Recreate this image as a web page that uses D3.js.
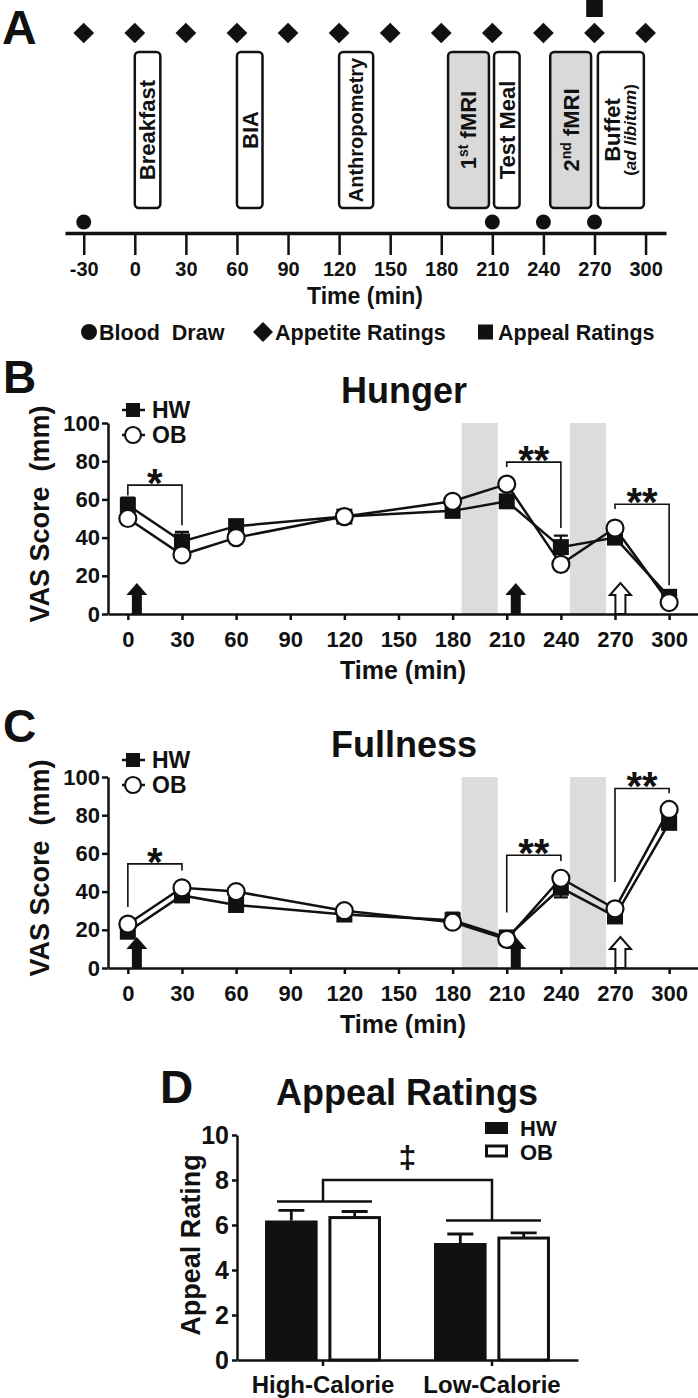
<!DOCTYPE html>
<html><head><meta charset="utf-8">
<script src="https://cdn.jsdelivr.net/npm/d3@7"></script>
<style>
body{margin:0;background:#fff}
text{font-family:"Liberation Sans",Arial,Helvetica,sans-serif;font-weight:bold;fill:#111}
.pre{white-space:pre}
</style>
</head><body>
<svg id="c" width="698" height="1398" xmlns="http://www.w3.org/2000/svg"></svg>
<script>
// ---------- Panel A data ----------
const timelineTicks = [-30,0,30,60,90,120,150,180,210,240,270,300];
const appetiteTimes = [-30,0,30,60,90,120,150,180,210,240,270,300];
const appealTimes = [270];
const bloodTimes = [-30,210,240,270];
const boxLabels = ["Breakfast","BIA","Anthropometry","1st fMRI","Test Meal","2nd fMRI","Buffet"];
const boxSubLabels = ["","","","","","","ad libitum"];
const boxStart = [0,60,120,184,211,244,272];
const boxEnd = [15,75,140,208,226,268,299];
const boxShaded = [false,false,false,true,false,true,false];
const legendA = ["Blood  Draw","Appetite Ratings","Appeal Ratings"];

// ---------- Panels B / C data ----------
const times = [0,30,60,120,180,210,240,270,300];
const axisTicks = [0,30,60,90,120,150,180,210,240,270,300];
const vasTicks = [0,20,40,60,80,100];
const hungerHW = [57,38,46,51,54,59,35,40,9];
const hungerHWerr = [4,5,2,2,3,3,6,3,2];
const hungerOB = [50,31,40,51,59,68,26,45,6];
const hungerOBerr = [3,2,2,2,2,2,2,2,1];
const fullHW = [19,38,33,28,25,16,42,27,76];
const fullHWerr = [3,3,3,2,4,3,5,3,3];
const fullOB = [23,42,40,30,24,15,47,31,83];
const fullOBerr = [2,2,2,2,2,2,2,2,2];
const shadeStart = [185,245];
const shadeEnd = [205,265];
const arrowTimes = [5,215,273];
const arrowFilled = [true,true,false];
// brackets: [t1, t2, top, leftEnd, rightEnd, label]
const hungerBrackets = [[0,30,67.5,62,46.5,"*"],[210,240,79.5,77,45,"**"],[270,300,57.5,55,15,"**"]];
const fullBrackets = [[0,30,54.5,32,51,"*"],[210,240,59,29,56,"**"],[270,300,94,45,91.5,"**"]];

// ---------- Panel D data ----------
const groups = ["High-Calorie","Low-Calorie"];
const appealHW = [6.2,5.2];
const appealHWerr = [0.45,0.4];
const appealOB = [6.33,5.42];
const appealOBerr = [0.27,0.23];
const appealTicks = [0,2,4,6,8,10];
const groupLineVals = [7.05,6.2];
const groupBracketTop = 8.0;

const INK = "#111";
const svg = d3.select("#c");

// ================= PANEL A =================
(function(){
  const xA = d3.scaleLinear().domain([-41,312]).range([65,666]);
  const g = svg.append("g");
  g.append("text").attr("x",2).attr("y",44).attr("font-size",48).text("A");

  g.selectAll("path.dia").data(appetiteTimes).join("path").attr("class","dia")
    .attr("d", d3.symbol(d3.symbolSquare, 215)())
    .attr("transform", d=>`translate(${xA(d)},33) rotate(45)`).attr("fill",INK);
  g.selectAll("rect.apq").data(appealTimes).join("rect").attr("class","apq")
    .attr("x",d=>xA(d)-8.3).attr("y",0).attr("width",16.6).attr("height",17).attr("fill",INK);

  const boxes = boxLabels.map((l,i)=>({l, sub:boxSubLabels[i], s:boxStart[i], e:boxEnd[i], shade:boxShaded[i]}));
  g.selectAll("rect.box").data(boxes).join("rect").attr("class","box")
    .attr("x",d=>xA(d.s)).attr("width",d=>xA(d.e)-xA(d.s))
    .attr("y",52).attr("height",156).attr("rx",4)
    .attr("fill",d=>d.shade?"#d9d9d9":"#fff").attr("stroke",INK).attr("stroke-width",2.5);

  boxes.forEach(d=>{
    const cx = (xA(d.s)+xA(d.e))/2;
    const fs = d.l.length>10 ? 20 : 22;
    const tg = g.append("g").attr("transform",`translate(${cx},130) rotate(-90)`);
    const m = d.l.match(/^(\d)(st|nd) (.*)$/);
    if (m){
      const t = tg.append("text").attr("text-anchor","middle").attr("y",0.36*fs).attr("font-size",fs);
      t.append("tspan").text(m[1]);
      t.append("tspan").attr("font-size",14).attr("dy",-8).text(m[2]);
      t.append("tspan").attr("dy",8).text(" "+m[3]);
    } else if (d.sub){
      tg.append("text").attr("text-anchor","middle").attr("y",-1).attr("font-size",fs).text(d.l);
      const t2 = tg.append("text").attr("text-anchor","middle").attr("y",15).attr("font-size",17);
      t2.append("tspan").text("(");
      t2.append("tspan").attr("font-style","italic").text(d.sub);
      t2.append("tspan").text(")");
    } else {
      tg.append("text").attr("text-anchor","middle").attr("y",0.36*fs).attr("font-size",fs).text(d.l);
    }
  });

  g.selectAll("circle.blood").data(bloodTimes).join("circle").attr("class","blood")
    .attr("cx",d=>xA(d)).attr("cy",222).attr("r",7.5).attr("fill",INK);

  const ax = d3.axisBottom(xA).tickValues(timelineTicks).tickFormat(d=>String(d))
    .tickSize(22).tickPadding(7).tickSizeOuter(0);
  g.append("g").attr("transform","translate(0,233)").call(ax).attr("font-size",20)
    .call(s=>s.select(".domain").attr("stroke",INK).attr("stroke-width",3.5))
    .call(s=>s.selectAll(".tick line").attr("stroke",INK).attr("stroke-width",2.5));

  g.append("text").attr("x",365).attr("y",304).attr("text-anchor","middle").attr("font-size",23).text("Time (min)");

  // legend
  g.append("circle").attr("cx",89).attr("cy",332).attr("r",8).attr("fill",INK);
  g.append("text").attr("class","pre").attr("x",99).attr("y",340).attr("font-size",21.5).text(legendA[0]);
  g.append("path").attr("d", d3.symbol(d3.symbolSquare, 200)()).attr("transform","translate(263,332) rotate(45)").attr("fill",INK);
  g.append("text").attr("x",275).attr("y",340).attr("font-size",21.5).text(legendA[1]);
  g.append("rect").attr("x",478).attr("y",324.5).attr("width",15).attr("height",15).attr("fill",INK);
  g.append("text").attr("x",498).attr("y",340).attr("font-size",21.5).text(legendA[2]);
})();

// ================= PANELS B & C =================
function linePanel(o){
  const x = d3.scaleLinear().domain([-11,316]).range([108,698]);
  const y = d3.scaleLinear().domain([0,100]).range([o.y0, o.y0-191]);
  const g = svg.append("g");
  g.append("text").attr("x",3).attr("y",o.letterY).attr("font-size",46).text(o.letter);
  g.append("text").attr("x",404).attr("y",o.titleY).attr("text-anchor","middle").attr("font-size",36).text(o.title);

  // shaded scan periods
  g.selectAll("rect.shade").data(shadeStart.map((s,i)=>[s,shadeEnd[i]])).join("rect").attr("class","shade")
    .attr("x",d=>x(d[0])).attr("width",d=>x(d[1])-x(d[0]))
    .attr("y",y(100)).attr("height",y(0)-y(100)).attr("fill","#dcdcdc");

  // arrows
  const arrowPath = "M-5,0V-19H-10.5L0,-31L10.5,-19H5V0Z";
  g.selectAll("path.arrow").data(arrowTimes.map((t,i)=>({t,f:arrowFilled[i]}))).join("path").attr("class","arrow")
    .attr("d",arrowPath).attr("transform",d=>`translate(${x(d.t)},${y(0)})`)
    .attr("fill",d=>d.f?INK:"#fff").attr("stroke",INK).attr("stroke-width",d=>d.f?0:2);

  // brackets
  o.brackets.forEach(b=>{
    g.append("path").attr("d",`M${x(b[0])},${y(b[3])}V${y(b[2])}H${x(b[1])}V${y(b[4])}`)
      .attr("fill","none").attr("stroke",INK).attr("stroke-width",1.6);
    g.append("text").attr("x",(x(b[0])+x(b[1]))/2).attr("y",y(b[2])+12).attr("text-anchor","middle")
      .attr("font-size",40).text(b[5]);
  });

  // axes
  const ay = d3.axisLeft(y).tickValues(vasTicks).tickSize(6).tickPadding(2).tickSizeOuter(0);
  g.append("g").attr("transform","translate(108,0)").call(ay).attr("font-size",22)
    .call(s=>s.select(".domain").attr("stroke",INK).attr("stroke-width",2.5))
    .call(s=>s.selectAll(".tick line").attr("stroke",INK).attr("stroke-width",2.5));
  const ax = d3.axisBottom(x).tickValues(axisTicks).tickSize(6).tickPadding(11).tickSizeOuter(0);
  g.append("g").attr("transform",`translate(0,${y(0)})`).call(ax).attr("font-size",22)
    .call(s=>s.select(".domain").attr("stroke",INK).attr("stroke-width",2.5))
    .call(s=>s.selectAll(".tick line").attr("stroke",INK).attr("stroke-width",2.5));
  g.append("text").attr("x",403).attr("y",y(0)+65).attr("text-anchor","middle").attr("font-size",25).text("Time (min)");
  g.append("text").attr("class","pre").attr("transform",`translate(49,${o.y0-100}) rotate(-90)`)
    .attr("text-anchor","middle").attr("font-size",27).text("VAS Score  (mm)");

  const hw = times.map((t,i)=>({t,v:o.hw[i],e:o.hwErr[i]}));
  const ob = times.map((t,i)=>({t,v:o.ob[i],e:o.obErr[i]}));
  const line = d3.line().x(d=>x(d.t)).y(d=>y(d.v));
  [hw,ob].forEach(s=>g.append("path").attr("d",line(s)).attr("fill","none").attr("stroke",INK).attr("stroke-width",2.5));

  [hw,ob].forEach(s=>{
    g.selectAll(null).data(s).join("path")
      .attr("d",d=>`M${x(d.t)},${y(d.v-d.e)}V${y(d.v+d.e)}M${x(d.t)-7},${y(d.v+d.e)}h14M${x(d.t)-7},${y(d.v-d.e)}h14`)
      .attr("stroke",INK).attr("stroke-width",2.2).attr("fill","none");
  });
  g.selectAll(null).data(hw).join("rect").attr("x",d=>x(d.t)-8).attr("y",d=>y(d.v)-8)
    .attr("width",16).attr("height",16).attr("fill",INK);
  g.selectAll(null).data(ob).join("circle").attr("cx",d=>x(d.t)).attr("cy",d=>y(d.v)).attr("r",8.5)
    .attr("fill","#fff").attr("stroke",INK).attr("stroke-width",2.2);

  // legend
  g.append("line").attr("x1",122).attr("x2",145).attr("y1",o.legY).attr("y2",o.legY).attr("stroke",INK).attr("stroke-width",2.5);
  g.append("rect").attr("x",126).attr("y",o.legY-7).attr("width",14).attr("height",14).attr("fill",INK);
  g.append("text").attr("x",152).attr("y",o.legY+8).attr("font-size",23).text("HW");
  g.append("line").attr("x1",122).attr("x2",145).attr("y1",o.legY+25).attr("y2",o.legY+25).attr("stroke",INK).attr("stroke-width",2.5);
  g.append("circle").attr("cx",133).attr("cy",o.legY+25).attr("r",8).attr("fill","#fff").attr("stroke",INK).attr("stroke-width",2.2);
  g.append("text").attr("x",152).attr("y",o.legY+33).attr("font-size",23).text("OB");
}

linePanel({letter:"B",letterY:393,title:"Hunger",titleY:403,y0:614,legY:410,
  hw:hungerHW,hwErr:hungerHWerr,ob:hungerOB,obErr:hungerOBerr,brackets:hungerBrackets});
linePanel({letter:"C",letterY:742,title:"Fullness",titleY:757,y0:968,legY:760,
  hw:fullHW,hwErr:fullHWerr,ob:fullOB,obErr:fullOBerr,brackets:fullBrackets});

// ================= PANEL D =================
(function(){
  const g = svg.append("g");
  const x = d3.scaleBand().domain(groups).range([237,578]).paddingInner(0.314).paddingOuter(0.166);
  const xs = d3.scaleBand().domain(["HW","OB"]).range([0,x.bandwidth()]).paddingInner(0.17);
  const y = d3.scaleLinear().domain([0,10]).range([1360,1135]);

  g.append("text").attr("x",160).attr("y",1103).attr("font-size",46).text("D");
  g.append("text").attr("x",407).attr("y",1105).attr("text-anchor","middle").attr("font-size",36).text("Appeal Ratings");

  const bars = [];
  groups.forEach((gr,i)=>{
    bars.push({gr,s:"HW",v:appealHW[i],e:appealHWerr[i]});
    bars.push({gr,s:"OB",v:appealOB[i],e:appealOBerr[i]});
  });
  // error bars (upward)
  g.selectAll(null).data(bars).join("path")
    .attr("d",d=>{const cx=x(d.gr)+xs(d.s)+xs.bandwidth()/2;return `M${cx},${y(d.v)}V${y(d.v+d.e)}M${cx-13},${y(d.v+d.e)}h26`;})
    .attr("stroke",INK).attr("stroke-width",2.8).attr("fill","none");
  g.selectAll(null).data(bars).join("rect")
    .attr("x",d=>x(d.gr)+xs(d.s)+(d.s==="OB"?1.5:0)).attr("width",d=>xs.bandwidth()-(d.s==="OB"?3:0))
    .attr("y",d=>y(d.v)).attr("height",d=>y(0)-y(d.v))
    .attr("fill",d=>d.s==="HW"?INK:"#fff").attr("stroke",d=>d.s==="HW"?"none":INK).attr("stroke-width",3);

  // group lines and bracket
  groups.forEach((gr,i)=>{
    g.append("line").attr("x1",x(gr)+12).attr("x2",x(gr)+x.bandwidth()-9)
      .attr("y1",y(groupLineVals[i])).attr("y2",y(groupLineVals[i])).attr("stroke",INK).attr("stroke-width",2.5);
  });
  const c0 = x(groups[0])+x.bandwidth()/2, c1 = x(groups[1])+x.bandwidth()/2;
  g.append("path").attr("d",`M${c0},${y(groupLineVals[0])}V${y(groupBracketTop)}H${c1}V${y(groupLineVals[1])}`)
    .attr("fill","none").attr("stroke",INK).attr("stroke-width",2.5);
  g.append("text").attr("x",(c0+c1)/2).attr("y",1168).attr("text-anchor","middle").attr("font-size",32).text("\u2021");

  // axes
  const ay = d3.axisLeft(y).tickValues(appealTicks).tickSize(5).tickPadding(3).tickSizeOuter(0);
  g.append("g").attr("transform","translate(237,0)").call(ay).attr("font-size",25)
    .call(s=>s.select(".domain").attr("stroke",INK).attr("stroke-width",2.5))
    .call(s=>s.selectAll(".tick line").attr("stroke",INK).attr("stroke-width",2.5));
  const ax = d3.axisBottom(x).tickSize(6).tickPadding(10).tickSizeOuter(0);
  g.append("g").attr("transform","translate(0,1360)").call(ax).attr("font-size",24)
    .call(s=>s.select(".domain").attr("stroke",INK).attr("stroke-width",2.5))
    .call(s=>s.selectAll(".tick line").attr("stroke",INK).attr("stroke-width",2.5));
  g.append("text").attr("transform","translate(200,1245) rotate(-90)").attr("text-anchor","middle")
    .attr("font-size",27).text("Appeal Rating");

  // legend
  g.append("rect").attr("x",485).attr("y",1122).attr("width",23).attr("height",12).attr("fill",INK);
  g.append("text").attr("x",520).attr("y",1136).attr("font-size",22).text("HW");
  g.append("rect").attr("x",486.5).attr("y",1146).attr("width",20).attr("height",10).attr("fill","#fff").attr("stroke",INK).attr("stroke-width",3);
  g.append("text").attr("x",520).attr("y",1160).attr("font-size",22).text("OB");
})();
</script>
</body></html>
